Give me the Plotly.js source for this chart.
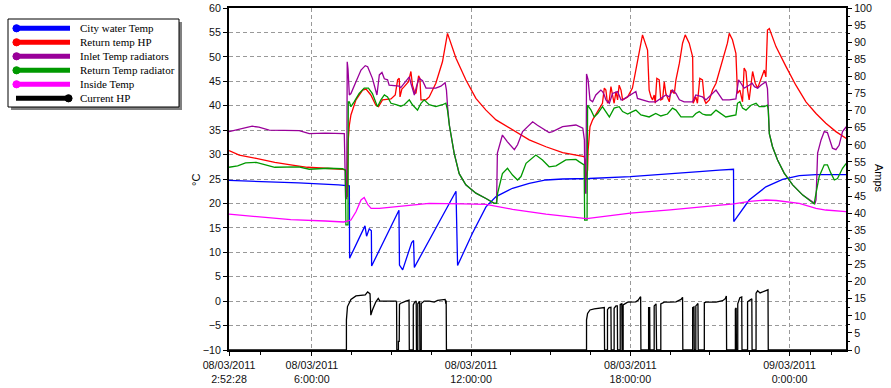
<!DOCTYPE html>
<html><head><meta charset="utf-8">
<script src="https://cdn.plot.ly/plotly-3.0.1.min.js"></script>
<style>html,body{margin:0;padding:0;background:#fff;}#chart{width:891px;height:388px;}</style>
</head><body><div id="chart"></div>
<script>
// ---- data (hours since 08/03/2011 00:00, values) ----
const seriesNames = ["City water Temp","Return temp HP","Inlet Temp radiators","Return Temp radiator","Inside Temp","Current HP"];
const seriesColors = ["#0000FF","#FF0000","#990099","#009900","#FF00FF","#000000"];

const cityH = [2.875,4.0,5.5,7.0,7.3,7.41,7.42,8.00,8.06,8.16,8.24,8.25,9.28,9.30,9.42,9.76,9.83,9.86,11.43,11.49,12.05,12.56,12.94,13.56,14.19,14.82,15.45,16.45,18.0,19.5,20.6,21.35,21.89,21.90,22.48,23.11,23.74,24.37,25.0,26.14];
const cityV = [24.7,24.5,24.2,23.8,23.7,23.6,8.8,15.4,13.3,14.8,14.4,7.2,18.6,7.4,6.4,12.0,12.4,6.9,22.5,7.3,13.9,19.3,21.4,23.1,24.1,24.8,25.0,25.1,25.5,26.0,26.5,26.8,27.0,16.3,20.7,23.4,24.9,25.7,25.9,25.9];

const retHpH = [2.875,3.26,3.9,4.6,5.2,5.83,6.5,7.15,7.27,7.33,7.36,7.41,7.47,7.66,7.91,8.04,8.22,8.41,8.51,8.66,8.98,9.14,9.23,9.29,9.32,9.39,9.48,9.64,9.73,9.79,9.86,9.92,10.02,10.07,10.11,10.30,10.42,10.67,10.92,11.11,11.43,11.80,12.18,12.56,12.94,13.56,14.19,14.82,15.45,16.26,16.30,16.32,16.39,16.41,16.48,16.58,16.77,16.95,17.02,17.08,17.14,17.21,17.27,17.33,17.39,17.46,17.52,17.58,17.65,17.71,17.90,18.08,18.27,18.40,18.46,18.65,18.71,18.78,18.84,18.90,18.94,19.00,19.09,19.15,19.22,19.28,19.34,19.47,19.53,19.66,19.72,19.85,19.97,20.07,20.22,20.35,20.37,20.47,20.53,20.62,20.72,20.79,20.85,20.98,21.10,21.23,21.48,21.66,21.73,21.85,21.98,22.04,22.13,22.23,22.29,22.36,22.42,22.48,22.61,22.71,22.80,22.92,22.98,23.05,23.11,23.17,23.24,23.49,23.87,24.24,24.62,25.00,25.37,25.75,26.14];
const retHpV = [30.8,29.9,29.2,28.4,27.9,27.4,27.2,27.0,26.8,21.3,32.4,36.0,38.1,41.2,43.2,43.4,42.2,40.1,39.8,41.2,41.4,42.2,45.3,45.6,41.8,43.4,43.9,44.9,47.0,44.2,42.9,42.5,46.1,45.6,41.2,41.2,41.8,44.6,49.0,54.8,49.7,45.3,41.5,39.1,37.1,35.0,33.0,31.6,30.4,29.6,28.9,25.1,26.8,30.9,35.7,37.1,38.8,40.5,43.6,43.2,40.5,41.2,43.9,41.8,40.5,42.9,41.2,44.2,43.2,41.2,41.8,43.6,49.4,53.5,54.5,51.4,43.2,41.8,41.2,42.2,40.5,45.6,45.3,41.2,41.4,44.9,42.5,40.8,43.2,42.5,45.3,48.7,52.8,54.5,52.8,50.0,40.5,41.8,40.5,45.6,45.3,41.2,40.5,41.2,43.2,44.6,49.4,52.8,54.8,53.5,50.7,42.5,43.2,40.8,47.7,47.0,43.2,41.2,47.0,44.6,43.6,45.3,46.3,47.3,45.9,55.5,55.8,52.1,48.0,44.2,40.8,38.4,36.4,34.7,33.3];

const inletH = [2.875,3.26,3.64,3.75,4.0,4.39,5.52,5.90,6.5,7.22,7.27,7.31,7.33,7.36,7.41,7.47,7.66,7.85,8.01,8.10,8.28,8.41,8.45,8.54,8.64,8.73,8.85,8.91,9.29,9.35,9.54,9.67,9.73,9.86,9.94,10.04,10.17,10.30,10.67,10.86,11.02,11.07,11.11,11.18,11.36,11.55,11.80,12.18,12.56,12.87,12.96,12.99,13.18,13.37,13.63,13.75,13.94,14.32,14.50,14.94,15.07,15.45,15.95,16.21,16.27,16.29,16.33,16.35,16.41,16.48,16.58,16.70,16.89,16.95,17.02,17.08,17.21,17.33,17.52,17.65,17.71,17.90,18.08,18.21,18.27,18.46,18.71,18.96,19.15,19.34,19.47,19.59,19.72,19.85,20.03,20.35,20.47,20.72,20.85,21.10,21.23,21.48,21.73,21.98,22.08,22.17,22.29,22.48,22.59,22.68,22.80,22.92,23.11,23.17,23.24,23.36,23.55,23.80,24.12,24.50,24.75,24.96,25.00,25.06,25.19,25.31,25.43,25.62,25.75,25.87,26.00,26.14];
const inletV = [34.7,35.2,35.7,35.8,35.6,35.0,34.9,34.3,34.4,34.3,21.0,21.0,49.0,47.5,42.2,42.5,44.9,47.3,48.2,48.0,45.6,43.2,42.2,46.3,46.8,45.5,45.3,44.2,44.0,43.7,44.9,45.9,44.6,42.2,43.9,45.6,45.1,43.6,43.6,44.0,44.7,43.2,40.0,36.0,30.3,26.1,23.8,22.1,21.0,20.0,20.1,30.3,34.0,32.6,31.0,32.0,34.7,36.7,36.0,34.5,34.7,35.7,36.05,35.4,33.0,22.1,22.1,46.5,45.3,41.2,40.8,42.2,43.2,42.9,42.2,41.2,40.5,42.5,42.9,41.2,41.2,41.8,42.5,42.9,41.5,41.2,40.8,40.8,41.5,42.2,41.8,43.2,42.5,41.2,40.8,40.8,42.2,41.8,41.2,42.5,43.2,41.2,41.2,41.4,45.3,44.6,43.6,44.2,44.6,43.9,43.6,44.2,44.9,43.5,34.3,31.6,28.9,26.2,23.8,21.7,20.7,20.0,20.7,30.3,33.0,34.7,34.5,31.3,31.0,31.9,34.7,35.7];

const retRadH = [2.875,3.2,3.5,3.9,4.39,4.6,5.5,5.9,6.6,7.15,7.26,7.28,7.36,7.37,7.41,7.47,7.59,7.78,7.97,8.13,8.28,8.47,8.60,8.73,8.85,8.98,9.17,9.35,9.48,9.67,9.79,9.98,10.11,10.23,10.42,10.67,10.92,11.05,11.11,11.18,11.36,11.55,11.80,12.18,12.56,12.87,12.96,13.00,13.18,13.37,13.56,13.75,13.88,14.07,14.44,14.69,14.94,15.20,15.57,15.95,16.08,16.26,16.28,16.37,16.39,16.52,16.64,16.77,16.95,17.08,17.21,17.39,17.58,17.71,17.90,18.08,18.21,18.40,18.71,18.96,19.15,19.40,19.59,19.72,19.91,20.35,20.47,20.60,20.72,20.85,21.04,21.23,21.42,21.60,21.98,22.04,22.13,22.23,22.36,22.55,22.74,22.86,23.05,23.17,23.20,23.24,23.36,23.55,23.80,24.12,24.50,24.75,24.93,25.00,25.12,25.31,25.43,25.56,25.69,25.81,26.00,26.14];
const retRadV = [27.4,27.7,28.3,28.4,27.7,27.4,27.5,27.0,27.2,27.1,26.8,15.6,15.6,40.8,40.8,39.8,40.8,42.5,43.6,43.6,42.5,39.8,41.2,42.2,41.8,40.5,40.2,39.9,40.2,41.2,40.2,39.1,40.5,41.2,40.2,39.8,40.2,40.5,39.1,36.0,30.3,26.1,23.8,22.1,21.0,20.0,20.0,22.1,26.1,27.2,25.8,24.8,25.5,28.2,29.9,28.9,27.5,27.7,28.9,29.0,28.5,27.9,16.6,16.6,40.1,39.1,37.7,38.4,39.8,38.8,37.7,39.5,39.8,38.8,38.3,38.8,39.1,38.1,37.7,38.4,37.9,38.3,39.5,39.1,37.7,37.7,38.4,38.8,38.3,38.1,38.1,39.1,38.4,37.7,38.1,40.5,40.8,39.5,39.1,40.1,40.5,39.8,39.8,40.1,39.1,34.3,31.6,28.9,26.2,23.8,21.7,20.7,19.9,22.1,25.5,27.9,27.9,26.2,24.8,25.1,27.2,28.2];

const insideH = [2.875,4.0,5.2,6.5,7.2,7.47,7.66,7.85,7.97,8.10,8.23,8.54,9.17,10.42,11.67,12.56,13.56,14.82,16.35,17.2,18.0,19.5,20.6,21.9,22.5,23.1,23.5,24.37,25.0,25.37,26.14];
const insideV = [17.8,17.3,16.7,16.4,16.2,16.6,18.3,20.7,21.2,19.8,19.0,19.0,19.3,20.0,19.9,19.8,18.8,17.8,16.9,17.4,18.0,18.7,19.2,19.9,20.4,20.7,20.6,20.0,19.0,18.65,18.3];

const ampsH = [2.875,7.30,7.30,7.34,7.47,7.66,8.01,8.10,8.19,8.22,8.28,8.41,8.50,8.56,9.17,9.19,9.20,
 9.26,9.26,9.29,9.30,9.33,9.54,9.66,9.67,
 9.82,9.82,9.87,9.93,9.94,
 9.99,9.99,10.06,10.07,
 10.12,10.12,10.23,10.42,10.61,10.74,11.02,11.05,11.06,11.07,
 16.35,16.35,16.39,16.48,16.64,16.95,17.02,17.03,
 17.14,17.14,17.20,17.27,17.28,
 17.39,17.39,17.46,17.51,17.52,
 17.62,17.62,17.68,17.69,
 17.73,17.73,17.80,17.90,18.21,18.30,18.36,18.39,18.40,
 18.69,18.69,18.73,18.74,
 18.90,18.90,18.97,18.99,
 19.15,19.15,19.28,19.47,19.72,19.91,19.97,19.98,
 20.35,20.35,20.40,20.41,
 20.47,20.47,20.55,20.56,
 20.79,20.79,20.85,21.23,21.48,21.58,21.60,21.62,21.63,
 21.96,21.96,21.99,22.00,
 22.05,22.05,22.13,22.20,22.21,
 22.42,22.42,22.55,22.58,22.59,
 22.74,22.74,22.80,22.89,22.99,23.11,23.19,23.20,
 26.14];
const ampsV = [0,0,8.8,12.7,14.8,15.8,16.1,17.0,16.4,10.2,11.7,14.1,15.1,14.3,14.3,14.0,0,
 0,2.5,2.5,13.3,13.6,14.3,14.6,0,
 0,13.2,14.0,14.3,0,
 0,13.5,14.2,0,
 0,13.6,14.3,14.3,14.0,14.5,14.8,13.5,14.5,0,
 0,8.8,10.7,11.7,12.0,12.3,12.4,0,
 0,11.8,12.4,12.5,0,
 0,12.2,12.9,12.9,0,
 0,13.3,13.5,0,
 0,13.2,13.6,14.0,14.1,14.6,15.3,15.6,0,
 0,12.4,12.4,0,
 0,12.9,13.5,0,
 0,13.5,14.0,14.0,14.1,14.8,15.4,0,
 0,12.4,12.6,0,
 0,12.9,13.6,0,
 0,13.8,14.0,14.0,14.4,15.0,15.8,15.8,0,
 0,12.0,12.3,0,
 0,13.5,15.3,15.5,0,
 0,14.1,14.8,15.0,0,
 0,16.6,17.3,16.7,17.0,17.3,17.6,0,
 0];

const tickHours = [2.87444, 6, 12, 18, 24];
const tickText = ["08/03/2011<br>2:52:28","08/03/2011<br>6:00:00","08/03/2011<br>12:00:00","08/03/2011<br>18:00:00","09/03/2011<br>0:00:00"];
const minorHours = [4.05,7.5,9,10.5,13.5,15,16.5,19.5,21,22.5,24.8,25.6];
const xStartH = 2.8742, xEndH = 26.13;

// ---- helpers ----
function hToDate(h){
  const ms = Date.UTC(2011,2,8) + Math.round(h*3600000);
  return new Date(ms).toISOString().slice(0,19).replace('T',' ');
}
const L=229, R=846, T=8, B=350;
function px(x){ return (x-L)/(R-L); }
function py(y){ return (B-y)/(B-T); }

const allH = [cityH, retHpH, inletH, retRadH, insideH, ampsH];
const allV = [cityV, retHpV, inletV, retRadV, insideV, ampsV];

const traces = allH.map((hs,i)=>({
  type:'scatter', mode:'lines',
  x: hs.map(hToDate), y: allV[i],
  name: seriesNames[i],
  yaxis: i===5 ? 'y2' : 'y',
  line:{color:seriesColors[i], width:1.3, shape:'linear'},
  hoverinfo:'skip'
}));

// ---- legend (drawn) ----
const shapes = [];
const annotations = [];
shapes.push({type:'rect', xref:'paper', yref:'paper', x0:px(11), x1:px(182), y0:py(22), y1:py(110), fillcolor:'#808080', line:{width:0}, layer:'above'});
shapes.push({type:'rect', xref:'paper', yref:'paper', x0:px(8), x1:px(179), y0:py(19), y1:py(107), fillcolor:'#FFFFFF', line:{color:'#000', width:1}, layer:'above'});
const rowY = [28.3,42.3,56.3,70.3,84.3,98.3];
seriesNames.forEach((nm,i)=>{
  const y = rowY[i];
  shapes.push({type:'line', xref:'paper', yref:'paper', x0:px(16), x1:px(70), y0:py(y), y1:py(y), line:{color:seriesColors[i], width:5}, layer:'above'});
  const cx = i===5 ? 68.5 : 16.5, r = 3.6;
  shapes.push({type:'circle', xref:'paper', yref:'paper', x0:px(cx-r), x1:px(cx+r), y0:py(y+r), y1:py(y-r), fillcolor:seriesColors[i], line:{color:seriesColors[i], width:1}, layer:'above'});
  annotations.push({xref:'paper', yref:'paper', x:px(77.5), y:py(y), xanchor:'left', yanchor:'middle', text:nm, showarrow:false, font:{family:'"Liberation Serif","Times New Roman",serif', size:11, color:'#000'}});
});
annotations.push({xref:'paper', yref:'paper', x:px(196), y:py(180), xanchor:'center', yanchor:'middle', text:'°C', textangle:-90, showarrow:false, font:{family:'"Liberation Sans",Arial,sans-serif', size:11, color:'#000'}});
annotations.push({xref:'paper', yref:'paper', x:px(879), y:py(178), xanchor:'center', yanchor:'middle', text:'Amps', textangle:90, showarrow:false, font:{family:'"Liberation Sans",Arial,sans-serif', size:11, color:'#000'}});

const tickFont = {family:'"Liberation Sans",Arial,sans-serif', size:10.7, color:'#111'};
const layout = {
  width:891, height:388,
  margin:{l:L, r:891-R, t:T, b:388-B, pad:0},
  paper_bgcolor:'#fff', plot_bgcolor:'#fff',
  showlegend:false,
  xaxis:{
    type:'date', range:[hToDate(xStartH), hToDate(xEndH)],
    tickmode:'array', tickvals:tickHours.map(hToDate), ticktext:tickText,
    ticks:'outside', ticklen:4, tickwidth:1, tickcolor:'#000',
    showline:true, linecolor:'#000', linewidth:2, mirror:true,
    showgrid:true, gridcolor:'#999', gridwidth:1, griddash:'4px,3px',
    zeroline:false, tickfont:tickFont, tickangle:0,
    minor:{tickmode:'array', tickvals:minorHours.map(hToDate), ticks:'outside', ticklen:3, tickcolor:'#000', showgrid:false}
  },
  yaxis:{
    range:[-10,60], tickmode:'linear', tick0:-10, dtick:5,
    ticks:'outside', ticklen:4, tickcolor:'#000',
    showline:true, linecolor:'#000', linewidth:2,
    showgrid:true, gridcolor:'#999', gridwidth:1, griddash:'4px,3px',
    zeroline:false, tickfont:tickFont
  },
  yaxis2:{
    overlaying:'y', side:'right', range:[0,100], tickmode:'linear', tick0:0, dtick:5,
    ticks:'outside', ticklen:4, tickcolor:'#000',
    showline:true, linecolor:'#000', linewidth:2,
    showgrid:false, zeroline:false, tickfont:tickFont,
    minor:{dtick:2.5, ticks:'outside', ticklen:2, tickcolor:'#000'}
  },
  shapes: shapes,
  annotations: annotations
};
Plotly.newPlot('chart', traces, layout, {staticPlot:true, displayModeBar:false});
</script>
</body></html>
